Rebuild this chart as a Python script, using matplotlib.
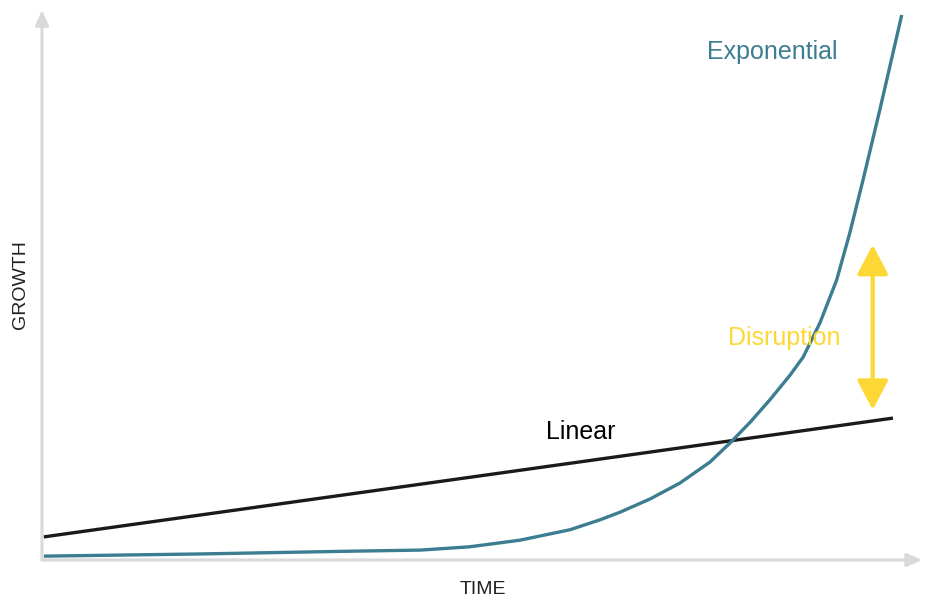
import matplotlib
matplotlib.use("Agg")
import matplotlib.pyplot as plt

# Data (arbitrary units: time 0-100, growth 0-100)
linear_time = [0.2, 96.7]
linear_growth = [4.2, 25.8]

exp_time = [0.2, 18.0, 35.0, 43.0, 48.6, 54.3, 60.0, 63.4, 65.7, 69.1, 72.5,
            75.9, 78.2, 80.5, 82.7, 85.0, 86.5, 88.4, 90.3, 91.8, 93.3,
            95.2, 97.7]
exp_growth = [0.7, 1.1, 1.6, 1.8, 2.4, 3.6, 5.5, 7.3, 8.7, 11.1, 14.0,
              17.8, 21.3, 25.1, 29.1, 33.6, 36.9, 43.1, 50.9, 59.5, 69.1,
              81.8, 99.1]

disruption_time = 94.4
disruption_range = [27.3, 57.3]

teal = "#3d7d91"
yellow = "#fdd835"
grey = "#d9d9d9"
font = ["Liberation Sans Narrow", "Liberation Sans", "DejaVu Sans"]

fig = plt.figure(figsize=(9.3, 6.04), dpi=100)
ax = fig.add_axes([42 / 930, 44 / 604, 880 / 930, 550 / 604])
ax.set_xlim(0, 100)
ax.set_ylim(0, 100)
ax.axis("off")

# axes with arrows
ax.annotate("", xy=(1, 0), xytext=(0, 0), xycoords="axes fraction",
            arrowprops=dict(arrowstyle="-|>,head_length=0.9,head_width=0.4",
                            color=grey, lw=2.2, shrinkA=0, shrinkB=0))
ax.annotate("", xy=(0, 1), xytext=(0, 0), xycoords="axes fraction",
            arrowprops=dict(arrowstyle="-|>,head_length=0.9,head_width=0.4",
                            color=grey, lw=2.2, shrinkA=0, shrinkB=0))

ax.plot(linear_time, linear_growth, color="#1a1a1a", lw=2.4,
        solid_capstyle="butt")
ax.plot(exp_time, exp_growth, color=teal, lw=2.4, solid_capstyle="butt",
        solid_joinstyle="round")

# disruption double arrow
ax.annotate("", xy=(disruption_time, disruption_range[1]),
            xytext=(disruption_time, disruption_range[0]),
            arrowprops=dict(arrowstyle="<|-|>,head_length=1.8,head_width=0.95",
                            color=yellow, lw=3, shrinkA=0, shrinkB=0))

ax.text(83.0, 92.3, "Exponential", color=teal, fontsize=18, family=font,
        ha="center", va="center")
ax.text(61.2, 23.3, "Linear", color="black", fontsize=18, family=font,
        ha="center", va="center")
ax.text(84.4, 40.4, "Disruption", color=yellow, fontsize=18, family=font,
        ha="center", va="center")

fig.text(20 / 930, 1 - 285 / 604, "GROWTH", rotation=90, fontsize=14,
         family=font, ha="center", va="center", color="#222222")
fig.text(483 / 930, 1 - 590 / 604, "TIME", fontsize=14, family=font,
         ha="center", va="center", color="#222222")

fig.savefig("out.png", dpi=100)
